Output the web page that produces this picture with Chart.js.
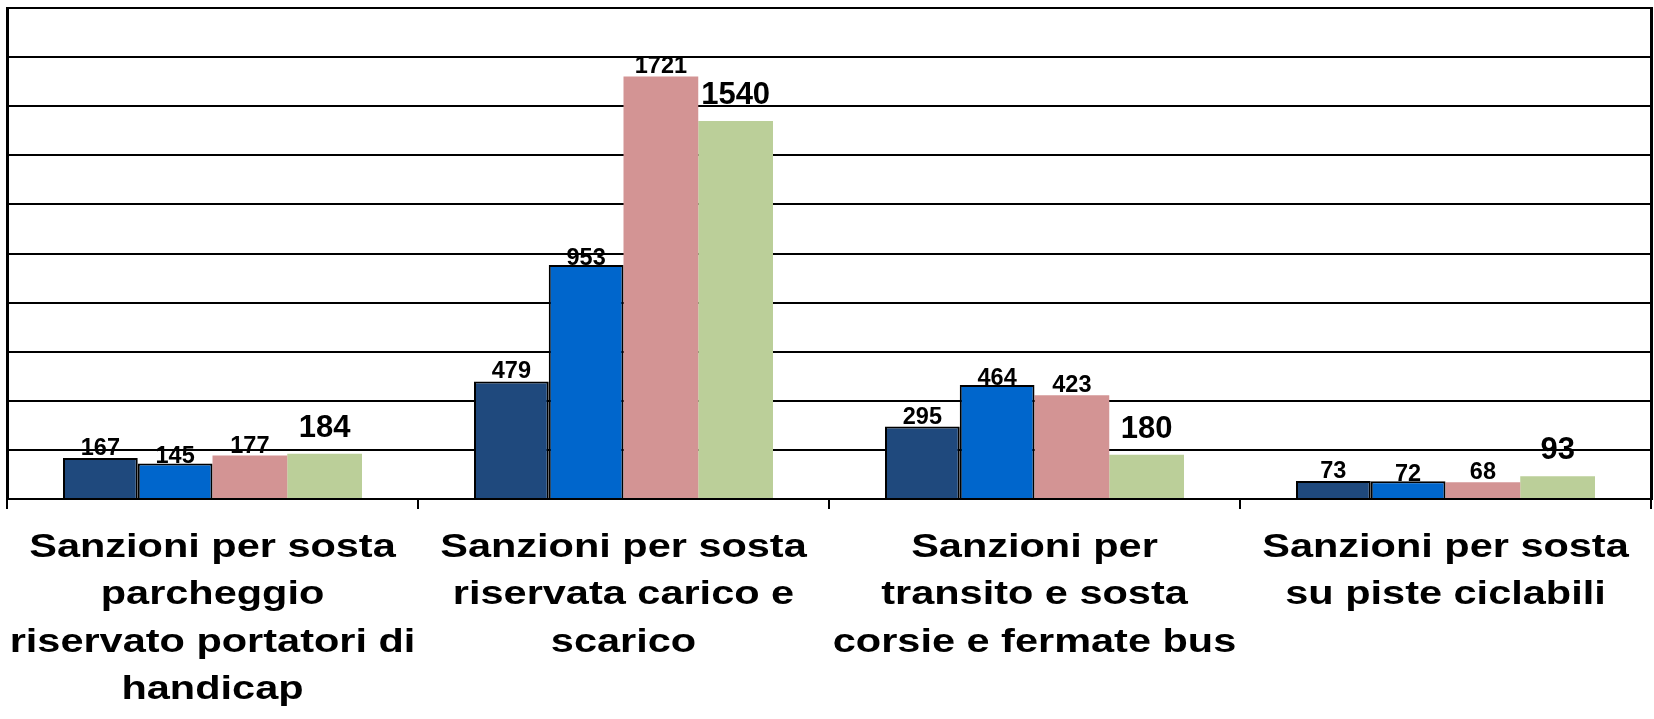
<!DOCTYPE html>
<html>
<head>
<meta charset="utf-8">
<script src="https://cdn.jsdelivr.net/npm/chart.js@4"></script>
<style>
  html, body { margin: 0; padding: 0; background: #fff; }
  #wrap { width: 1654px; height: 719px; }
</style>
</head>
<body>
<div id="wrap"><canvas id="barGraph" width="1654" height="719"></canvas></div>
<script>
// categorie (etichette asse x, già spezzate su più righe)
const categorie = [
  ["Sanzioni per sosta", "parcheggio", "riservato portatori di", "handicap"],
  ["Sanzioni per sosta", "riservata carico e", "scarico"],
  ["Sanzioni per", "transito e sosta", "corsie e fermate bus"],
  ["Sanzioni per sosta", "su piste ciclabili"],
];
const serie1 = [167, 479, 295, 73];
const serie2 = [145, 953, 464, 72];
const serie3 = [177, 1721, 423, 68];
const serie4 = [184, 1540, 180, 93];

const FONT = "'Liberation Sans', Arial, sans-serif";

// etichette dei valori sopra le barre
const etichette = {
  id: "etichette",
  afterDatasetsDraw(chart) {
    const ctx = chart.ctx;
    chart.data.datasets.forEach((ds, i) => {
      const meta = chart.getDatasetMeta(i);
      ctx.save();
      ctx.font = "bold " + ds.labelSize + "px " + FONT;
      ctx.fillStyle = "#000";
      ctx.textAlign = "center";
      ctx.textBaseline = "alphabetic";
      meta.data.forEach((bar, j) => {
        ctx.fillText(String(ds.data[j]), bar.x, bar.y - ds.labelGap);
      });
      ctx.restore();
    });
  },
};

// etichette categorie: il testo originale è allargato in orizzontale
const categorieAsse = {
  id: "categorieAsse",
  afterDraw(chart) {
    const ctx = chart.ctx;
    const xs = chart.scales.x;
    ctx.save();
    ctx.font = "bold 34px " + FONT;
    ctx.fillStyle = "#000";
    ctx.textAlign = "center";
    ctx.textBaseline = "alphabetic";
    chart.data.labels.forEach((righe, i) => {
      const cx = xs.getPixelForValue(i);
      righe.forEach((riga, k) => {
        ctx.save();
        ctx.translate(cx, xs.top + 58 + k * 47.3);
        ctx.scale(1.22, 1);
        ctx.fillText(riga, 0, 0);
        ctx.restore();
      });
    });
    ctx.restore();
  },
};

const dataSetovi = [
  { label: "Serie 1", data: serie1, backgroundColor: "#1F497D", borderColor: "#000", borderWidth: 2, labelSize: 23.5, labelGap: 3 },
  { label: "Serie 2", data: serie2, backgroundColor: "#0066CC", borderColor: "#000", borderWidth: 2, labelSize: 23.5, labelGap: 0 },
  { label: "Serie 3", data: serie3, backgroundColor: "#D39494", borderWidth: 0, labelSize: 23.5, labelGap: 3 },
  { label: "Serie 4", data: serie4, backgroundColor: "#BBCF99", borderWidth: 0, labelSize: 31, labelGap: 17 },
];

const config = {
  type: "bar",
  data: { labels: categorie, datasets: dataSetovi },
  options: {
    responsive: false,
    animation: false,
    categoryPercentage: 0.7275,
    barPercentage: 1.0,
    layout: { padding: { left: 7, right: 3, top: 8, bottom: 0 } },
    plugins: { legend: { display: false }, tooltip: { enabled: false } },
    scales: {
      x: {
        grid: { offset: true, drawOnChartArea: false, drawTicks: true, tickLength: 10, color: "#000", lineWidth: 2 },
        border: { display: true, color: "#000", width: 2 },
        ticks: { display: false },
        afterFit(scale) {
          scale.height = 220;
        },
      },
      y: {
        min: 0,
        max: 2000,
        ticks: { stepSize: 200, display: false },
        grid: { color: "#000", lineWidth: 2, drawTicks: false },
        border: { display: true, color: "#000", width: 3 },
      },
      y2: {
        position: "right",
        min: 0,
        max: 2000,
        ticks: { display: false },
        grid: { display: false, drawTicks: false },
        border: { display: true, color: "#000", width: 3 },
      },
    },
  },
  plugins: [etichette, categorieAsse],
};

new Chart(document.getElementById("barGraph"), config);
</script>
</body>
</html>
